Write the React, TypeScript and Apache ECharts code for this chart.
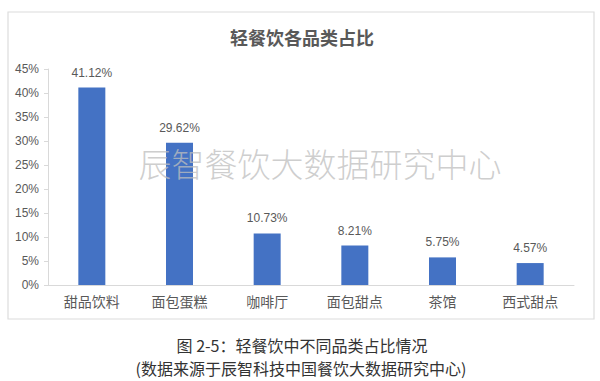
import React, { useEffect, useRef } from "react";
import * as echarts from "echarts";

const categories = ["甜品饮料", "面包蛋糕", "咖啡厅", "面包甜点", "茶馆", "西式甜点"];
const shares = [41.12, 29.62, 10.73, 8.21, 5.75, 4.57];
const titleText = "轻餐饮各品类占比";
const watermarkText = "辰智餐饮大数据研究中心";
const captionLine1 = "图 2-5：轻餐饮中不同品类占比情况";
const captionLine2 = "(数据来源于辰智科技中国餐饮大数据研究中心)";

const latin = '"Liberation Sans", Arial, "Noto Sans CJK SC", sans-serif';
const cjk = '"Noto Sans CJK SC", "Noto Sans", sans-serif';

export default function App() {
  const ref = useRef<HTMLDivElement>(null);
  useEffect(() => {
    if (!ref.current) return;
    const chart = echarts.init(ref.current, undefined, { renderer: "svg" });
    chart.setOption({
      animation: false,
      backgroundColor: "#ffffff",
      grid: { left: 48, right: 26, top: 69, bottom: 96 },
      xAxis: {
        type: "category",
        data: categories,
        axisLine: { show: true, lineStyle: { color: "#d9d9d9", width: 1 } },
        axisTick: { show: false },
        axisLabel: { color: "#595959", fontSize: 14, fontFamily: cjk, margin: 9 },
      },
      yAxis: {
        type: "value",
        min: 0,
        max: 45,
        interval: 5,
        splitLine: { show: false },
        axisLine: { show: true, lineStyle: { color: "#d9d9d9", width: 1 } },
        axisTick: { show: true, length: 4, lineStyle: { color: "#d9d9d9" } },
        axisLabel: {
          color: "#595959",
          fontSize: 12,
          fontFamily: latin,
          margin: 9,
          formatter: "{value}%",
        },
      },
      series: [
        {
          type: "bar",
          data: shares,
          barWidth: 27,
          itemStyle: { color: "#4472C4" },
          label: {
            show: true,
            position: "top",
            distance: 9,
            color: "#595959",
            fontSize: 12,
            fontFamily: latin,
            formatter: "{c}%",
          },
        },
      ],
      graphic: [
        {
          type: "rect",
          shape: { x: 8, y: 12, width: 586, height: 307 },
          style: { fill: "none", stroke: "#dcdcdc", lineWidth: 1.2 },
          z: 0,
          silent: true,
        },
        {
          type: "text",
          x: 302,
          y: 37,
          style: {
            text: titleText,
            fill: "#595959",
            fontSize: 18,
            fontWeight: "bold",
            fontFamily: cjk,
            align: "center",
            verticalAlign: "middle",
          },
        },
        {
          type: "text",
          x: 320,
          y: 163,
          z: 100,
          style: {
            text: watermarkText,
            fill: "rgba(190,190,190,0.75)",
            fontSize: 33,
            fontWeight: 300,
            fontFamily: cjk,
            align: "center",
            verticalAlign: "middle",
          },
          silent: true,
        },
        {
          type: "text",
          x: 302,
          y: 345,
          style: {
            text: captionLine1,
            fill: "#333333",
            fontSize: 16,
            fontFamily: cjk,
            align: "center",
            verticalAlign: "middle",
          },
        },
        {
          type: "text",
          x: 301,
          y: 368,
          style: {
            text: captionLine2,
            fill: "#333333",
            fontSize: 16,
            fontFamily: cjk,
            align: "center",
            verticalAlign: "middle",
          },
        },
      ],
    });
    return () => chart.dispose();
  }, []);
  return (
    <div
      ref={ref}
      style={{ position: "fixed", left: 0, top: 0, width: 600, height: 381, background: "#fff" }}
    />
  );
}
